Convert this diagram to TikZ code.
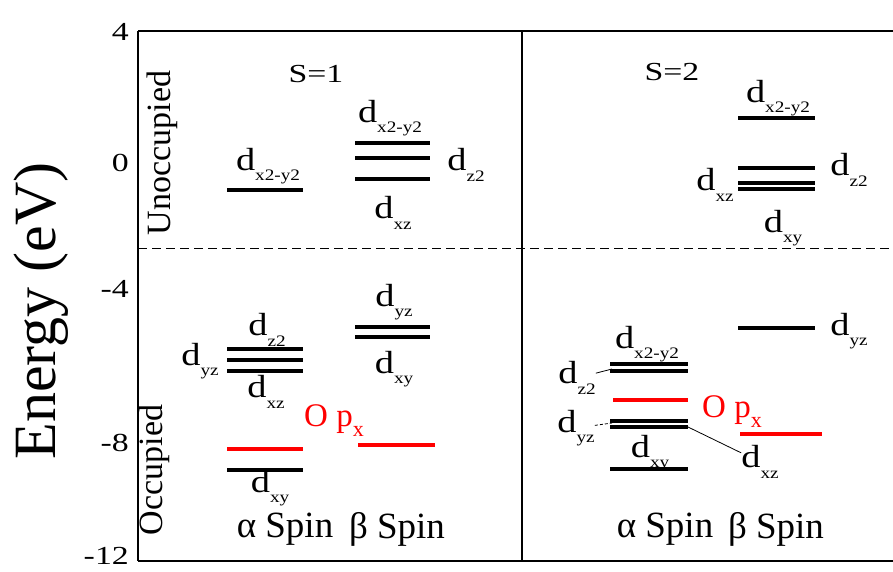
\documentclass[tikz,border=0pt]{standalone}
\usepackage{graphicx}
\usepackage{fontspec}
\setmainfont{Liberation Serif}

\newcommand\orb[1]{\scalebox{1.2}[1]{d\raisebox{-10.5pt}{\fontsize{16}{16}\selectfont #1}}}
\newcommand\opx{O p\raisebox{-10pt}{\fontsize{22}{22}\selectfont x}}
\newcommand\wide[1]{\scalebox{1.3}[1]{#1}}

\tikzset{
    frame/.style={line width=1.6pt},
    sep/.style={line width=1pt, dash pattern=on 9pt off 5pt},
    lvl/.style={line width=3.2pt},
    oxy/.style={line width=3.6pt, red},
    lead/.style={line width=0.8pt},
    orb/.style={inner sep=0pt, font=\fontsize{32}{32}\selectfont},
    opx/.style={inner sep=0pt, red, font=\fontsize{33}{33}\selectfont},
    tick/.style={inner sep=0pt, anchor=east, font=\fontsize{26}{26}\selectfont},
    title/.style={inner sep=0pt, font=\fontsize{26}{26}\selectfont},
    spin/.style={inner sep=0pt, font=\fontsize{37}{37}\selectfont},
    occ/.style={inner sep=0pt, rotate=90, font=\fontsize{34}{34}\selectfont}
}

\begin{document}
\begin{tikzpicture}[x=1pt, y=-1pt]
    \useasboundingbox (0,0) rectangle (893,572);
    \def\la{227} \def\lb{303}
    \def\ma{355} \def\mb{430}
    \def\ra{610} \def\rb{688}
    \def\sa{738} \def\sb{815}

    \draw [frame] (138,31) -- (893,31);
    \draw [frame] (138,561) -- (893,561);
    \draw [frame] (138,31) -- (138,561);
    \draw [frame] (522,31) -- (522,561);
    \draw [sep] (138,248) -- (893,248);

    \node[inner sep=0pt, rotate=90, font=\fontsize{60}{60}\selectfont] (energy) at (41,311) {Energy (eV)};
    \node[tick] (t4) at (129,32) {\wide{4}};
    \node[tick] (t0) at (129,163) {\wide{0}};
    \node[tick] (t-4) at (129,289) {\wide{-4}};
    \node[tick] (t-8) at (129,443) {\wide{-8}};
    \node[tick] (t-12) at (129,556) {\wide{-12}};

    \node[occ] (unocc) at (162,153) {Unoccupied};
    \node[occ] (occ) at (154,470) {Occupied};

    \node[title] (s1) at (316,74) {\wide{S=1}};
    \node[title] (s2) at (672,72) {\wide{S=2}};

    % S=1
    \draw [lvl] (\la,190) -- (\lb,190);
    \node[orb] (a1) at (268,166) {\orb{x2-y2}};
    \draw [lvl] (\ma,143) -- (\mb,143);
    \draw [lvl] (\ma,158) -- (\mb,158);
    \draw [lvl] (\ma,179) -- (\mb,179);
    \node[orb] (b1) at (390,118) {\orb{x2-y2}};
    \node[orb] (b2) at (466,165) {\orb{z2}};
    \node[orb] (b3) at (393,213) {\orb{xz}};

    \draw [lvl] (\la,349) -- (\lb,349);
    \draw [lvl] (\la,360) -- (\lb,360);
    \draw [lvl] (\la,371) -- (\lb,371);
    \draw [oxy] (\la,449) -- (\lb,449);
    \draw [lvl] (\la,470) -- (\lb,470);
    \node[orb] (a2) at (267,330) {\orb{z2}};
    \node[orb] (a3) at (200,361) {\orb{yz}};
    \node[orb] (a4) at (266,392) {\orb{xz}};
    \node[orb] (a5) at (270,488) {\orb{xy}};

    \draw [lvl] (\ma,327) -- (\mb,327);
    \draw [lvl] (\ma,337) -- (\mb,337);
    \draw [oxy] (358,445) -- (435,445);
    \node[orb] (b4) at (394,302) {\orb{yz}};
    \node[orb] (b5) at (394,369) {\orb{xy}};
    \node[opx] (p1) at (334,421) {\opx};

    \node[spin] (sa1) at (285,529) {α Spin};
    \node[spin] (sb1) at (397,529) {β Spin};

    % S=2
    \draw [lvl] (\sa,118) -- (\sb,118);
    \draw [lvl] (\sa,168) -- (\sb,168);
    \draw [lvl] (\sa,183) -- (\sb,183);
    \draw [lvl] (\sa,189) -- (\sb,189);
    \node[orb] (c1) at (778,98) {\orb{x2-y2}};
    \node[orb] (c2) at (715,185) {\orb{xz}};
    \node[orb] (c3) at (849,170) {\orb{z2}};
    \node[orb] (c4) at (783,228) {\orb{xy}};

    \draw [lvl] (\ra,364) -- (\rb,364);
    \draw [lvl] (\ra,371) -- (\rb,371);
    \draw [oxy] (613,400) -- (\rb,400);
    \draw [lvl] (\ra,421) -- (\rb,421);
    \draw [lvl] (\ra,427) -- (\rb,427);
    \draw [lvl] (\ra,469) -- (\rb,469);
    \node[orb] (d1) at (647,344) {\orb{x2-y2}};
    \node[orb] (d2) at (577,378) {\orb{z2}};
    \node[orb] (d3) at (576,428) {\orb{yz}};
    \node[orb] (d4) at (760,462) {\orb{xz}};
    \node[orb] (d5) at (650,453) {\orb{xy}};
    \coordinate (e2) at (612,369);
    \coordinate (e3) at (612,423);
    \coordinate (e4) at (688,427);
    \draw [lead] (d2) -- (e2);
    \draw [lead, dash pattern=on 3pt off 2pt] (d3) -- (e3);
    \draw [lead] (d4) -- (e4);

    \draw [lvl] (\sa,328) -- (\sb,328);
    \draw [oxy] (740,434) -- (822,434);
    \node[orb] (f1) at (849,331) {\orb{yz}};
    \node[opx] (p2) at (732,412) {\opx};

    \node[spin] (sa2) at (665,529) {α Spin};
    \node[spin] (sb2) at (776,529) {β Spin};
\end{tikzpicture}
\end{document}
